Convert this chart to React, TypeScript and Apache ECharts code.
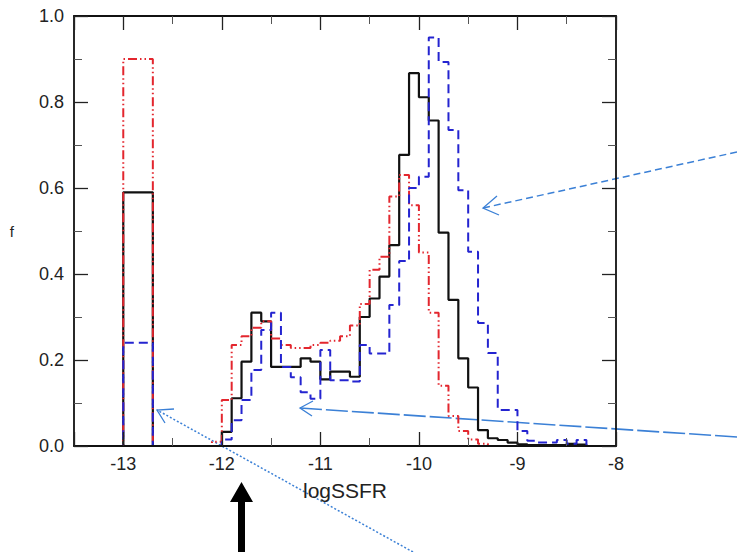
import React, { useEffect, useRef } from "react";
import * as echarts from "echarts";

// x range and bins
const X_MIN = -13.5;
const X_MAX = -8;
const zeroBin = [-13, -12.7];
const binStart = -12.1;
const binWidth = 0.1;

// values in the special "-13" bin
const blackZero = 0.59;
const redZero = 0.9;
const blueZero = 0.24;

// bins from -12.1 to -8.3 (left edges), width 0.1
const blackValues = [
  0, 0.033, 0.111, 0.196, 0.31, 0.29, 0.184, 0.184, 0.184, 0.204, 0.196, 0.155,
  0.173, 0.173, 0.161, 0.3, 0.343, 0.394, 0.467, 0.677, 0.867, 0.811, 0.757,
  0.496, 0.34, 0.204, 0.136, 0.037, 0.018, 0.014, 0.008, 0.004, 0.002, 0.002,
  0.002, 0.002, 0.005, 0.003, 0,
];
const redValues = [
  0.01, 0.107, 0.235, 0.255, 0.275, 0.29, 0.25, 0.235, 0.228, 0.228, 0.235, 0.24,
  0.245, 0.255, 0.28, 0.33, 0.41, 0.44, 0.58, 0.63, 0.56, 0.45, 0.31, 0.14, 0.07,
  0.035, 0.015, 0.005, 0, 0, 0, 0, 0, 0, 0, 0, 0, 0, 0,
];
const blueValues = [
  0, 0.015, 0.06, 0.107, 0.177, 0.27, 0.31, 0.184, 0.16, 0.125, 0.11, 0.223,
  0.153, 0.153, 0.15, 0.235, 0.215, 0.215, 0.328, 0.43, 0.6, 0.626, 0.95, 0.893,
  0.735, 0.595, 0.452, 0.286, 0.216, 0.084, 0.084, 0.035, 0.012, 0.008, 0.008,
  0.014, 0.005, 0.014, 0,
];

const yTickLabels = ["0.0", "0.2", "0.4", "0.6", "0.8", "1.0"];

function stepPoints(zeroVal: number, values: number[]): number[][] {
  const pts: number[][] = [
    [X_MIN, 0],
    [zeroBin[0], 0],
    [zeroBin[0], zeroVal],
    [zeroBin[1], zeroVal],
    [zeroBin[1], 0],
    [binStart, 0],
  ];
  values.forEach((v, i) => {
    const a = +(binStart + i * binWidth).toFixed(2);
    const b = +(a + binWidth).toFixed(2);
    pts.push([a, v], [b, v]);
  });
  const end = +(binStart + values.length * binWidth).toFixed(2);
  pts.push([end, 0], [X_MAX, 0]);
  return pts;
}

const FONT = "Liberation Sans";
const ARROW_BLUE = "#3b80d6";

function axisParts() {
  return {
    axisLine: { show: true, onZero: false, lineStyle: { color: "#111", width: 1.8 } },
    axisTick: { show: true, inside: true, length: 14, lineStyle: { color: "#222", width: 1.3 } },
    minorTick: { show: true, splitNumber: 2, length: 8, lineStyle: { color: "#555", width: 1 } },
    splitLine: { show: false },
    minorSplitLine: { show: false },
  };
}

export default function App() {
  const ref = useRef<HTMLDivElement>(null);
  useEffect(() => {
    if (!ref.current) return;
    const chart = echarts.init(ref.current, undefined, { renderer: "svg" });
    const lineSeries = (name: string, data: number[][], color: string, type: any, width: number) => ({
      name,
      type: "line",
      data,
      showSymbol: false,
      symbol: "none",
      silent: true,
      z: 3,
      lineStyle: { color, width, type },
    });
    chart.setOption({
      animation: false,
      backgroundColor: "#ffffff",
      grid: { left: 74, right: 121, top: 16, bottom: 106, containLabel: false },
      xAxis: [
        {
          type: "value",
          min: X_MIN,
          max: X_MAX,
          splitNumber: 5,
          position: "bottom",
          z: 5,
          ...axisParts(),
          axisLabel: {
            show: true,
            fontSize: 18,
            color: "#222",
            fontFamily: FONT,
            margin: 9,
            formatter: (v: number) => (Math.abs(v - Math.round(v)) < 1e-6 ? String(Math.round(v)) : ""),
          },
          name: "logSSFR",
          nameLocation: "middle",
          nameGap: 34,
          nameTextStyle: { fontSize: 21, color: "#222", fontFamily: FONT },
        },
        {
          type: "value",
          min: X_MIN,
          max: X_MAX,
          splitNumber: 5,
          position: "top",
          z: 5,
          ...axisParts(),
          axisLabel: { show: false },
        },
      ],
      yAxis: [
        {
          type: "value",
          min: 0,
          max: 1,
          interval: 0.2,
          position: "left",
          z: 5,
          ...axisParts(),
          axisLabel: {
            show: true,
            fontSize: 18,
            color: "#222",
            fontFamily: FONT,
            margin: 10,
            formatter: (v: number) => yTickLabels[Math.round(v / 0.2)] ?? "",
          },
          name: "f",
          nameLocation: "middle",
          nameGap: 60,
          nameRotate: 0,
          nameTextStyle: { fontSize: 15, color: "#222", fontFamily: FONT },
        },
        {
          type: "value",
          min: 0,
          max: 1,
          interval: 0.2,
          position: "right",
          z: 5,
          ...axisParts(),
          axisLabel: { show: false },
        },
      ],
      series: [
        lineSeries("all", stepPoints(blackZero, blackValues), "#111111", "solid", 2.2),
        lineSeries("red", stepPoints(redZero, redValues), "#e3262e", [9, 3, 1.5, 3, 1.5, 3], 2),
        lineSeries("blue", stepPoints(blueZero, blueValues), "#2424d0", [9, 5], 2),
      ],
      graphic: [
        // upper blue arrow
        { type: "line", shape: { x1: 737, y1: 152, x2: 483, y2: 208 }, style: { stroke: ARROW_BLUE, lineWidth: 1.5, lineDash: [7, 4] } },
        { type: "polyline", shape: { points: [[497, 196], [483, 208], [499, 215]] }, style: { stroke: ARROW_BLUE, lineWidth: 1.3, fill: null } },
        // middle blue arrow
        { type: "line", shape: { x1: 737, y1: 437, x2: 300, y2: 408 }, style: { stroke: ARROW_BLUE, lineWidth: 1.6, lineDash: [22, 4] } },
        { type: "polyline", shape: { points: [[313, 401], [300, 408], [312, 416]] }, style: { stroke: ARROW_BLUE, lineWidth: 1.3, fill: null } },
        // lower blue arrow (dotted)
        { type: "line", shape: { x1: 413, y1: 552, x2: 157, y2: 410 }, style: { stroke: ARROW_BLUE, lineWidth: 1.5, lineDash: [2, 2] } },
        { type: "polyline", shape: { points: [[174, 409], [157, 410], [165, 423]] }, style: { stroke: ARROW_BLUE, lineWidth: 1.3, fill: null } },
        // black upward arrow
        {
          type: "polygon",
          shape: {
            points: [[238, 552], [238, 502], [230, 502], [241.5, 482], [253, 502], [245, 502], [245, 552]],
          },
          style: { fill: "#000" },
        },
      ],
    });
    return () => chart.dispose();
  }, []);
  return (
    <div
      ref={ref}
      style={{ position: "fixed", left: 0, top: 0, width: 737, height: 552, background: "#fff" }}
    />
  );
}
